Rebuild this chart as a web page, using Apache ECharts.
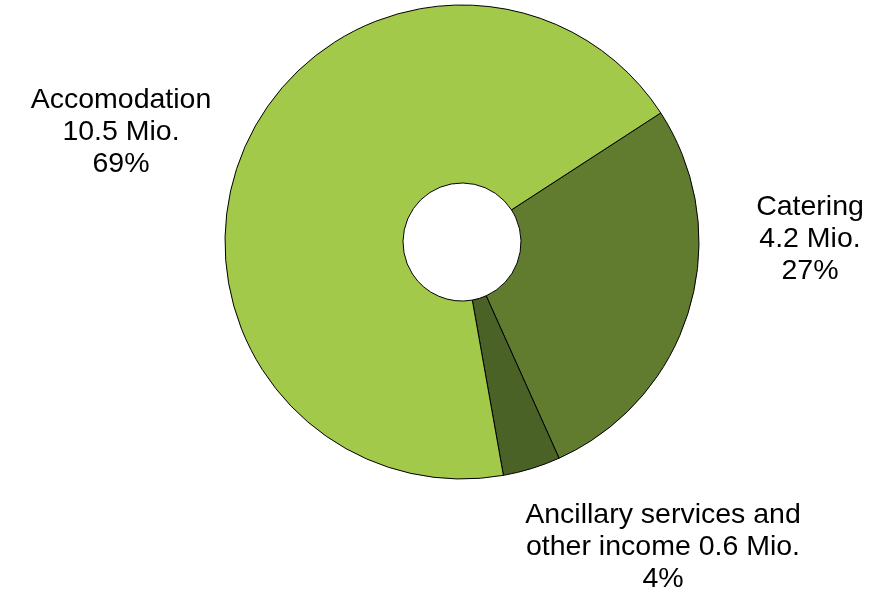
<!DOCTYPE html>
<html>
<head>
    <meta charset="utf-8">
    <style>
        html, body { margin: 0; padding: 0; background: #fff; }
        #main { width: 887px; height: 595px; }
    </style>
</head>
<body>
    <div id="main"></div>
    <script src="https://cdn.jsdelivr.net/npm/echarts@6/dist/echarts.min.js"></script>
    <script type="text/javascript">
        // data (clockwise from upper right)
        var names = ['Catering', 'Ancillary services and\nother income', 'Accomodation'];
        var values = [4.2, 0.6, 10.5];          // Mio.
        var percents = [27, 4, 69];
        var colors = ['#617b2f', '#4b6227', '#a2c94a'];

        // label anchor points (centre of each text block)
        var labelPos = [[810, 239], [663, 547], [121, 132]];

        var myChart = echarts.init(document.getElementById('main'));

        var seriesData = [];
        for (var i = 0; i < names.length; i++) {
            seriesData.push({
                name: names[i],
                value: values[i],
                pct: percents[i],
                itemStyle: { color: colors[i] }
            });
        }

        var option = {
            backgroundColor: '#fff',
            animation: false,
            series: [{
                type: 'pie',
                center: [462, 242],
                radius: [59, 237],
                startAngle: 33,
                clockwise: true,
                data: seriesData,
                itemStyle: {
                    borderColor: '#000',
                    borderWidth: 1
                },
                label: {
                    show: true,
                    position: 'outside',
                    color: '#000',
                    fontFamily: '"Liberation Sans", Arial, sans-serif',
                    fontSize: 28.5,
                    lineHeight: 32,
                    align: 'center',
                    formatter: function (p) {
                        var n = p.data.name;
                        if (n.indexOf('\n') >= 0) {
                            return n + ' ' + p.data.value + ' Mio.\n' + p.data.pct + '%';
                        }
                        return n + '\n' + p.data.value + ' Mio.\n' + p.data.pct + '%';
                    }
                },
                labelLine: { show: false },
                labelLayout: function (params) {
                    var pos = labelPos[params.dataIndex];
                    return {
                        x: pos[0],
                        y: pos[1],
                        align: 'center',
                        verticalAlign: 'middle'
                    };
                },
                emphasis: { disabled: true }
            }]
        };

        myChart.setOption(option);
    </script>
</body>
</html>
